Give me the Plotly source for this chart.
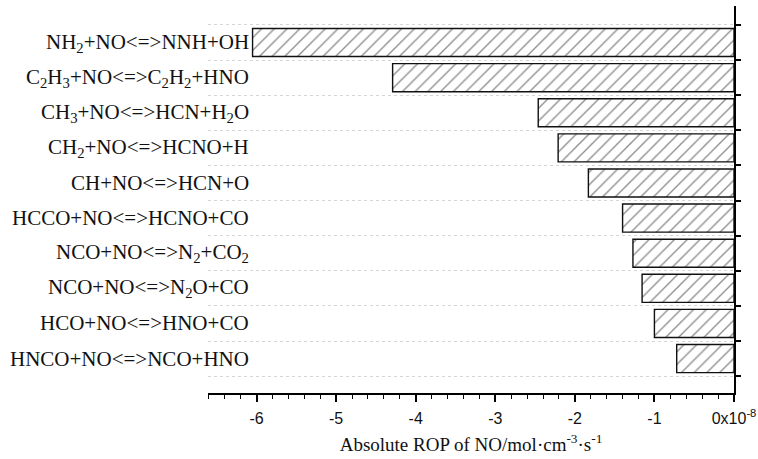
import plotly.graph_objects as go

reactions = [
    "NH<sub>2</sub>+NO&lt;=&gt;NNH+OH",
    "C<sub>2</sub>H<sub>3</sub>+NO&lt;=&gt;C<sub>2</sub>H<sub>2</sub>+HNO",
    "CH<sub>3</sub>+NO&lt;=&gt;HCN+H<sub>2</sub>O",
    "CH<sub>2</sub>+NO&lt;=&gt;HCNO+H",
    "CH+NO&lt;=&gt;HCN+O",
    "HCCO+NO&lt;=&gt;HCNO+CO",
    "NCO+NO&lt;=&gt;N<sub>2</sub>+CO<sub>2</sub>",
    "NCO+NO&lt;=&gt;N<sub>2</sub>O+CO",
    "HCO+NO&lt;=&gt;HNO+CO",
    "HNCO+NO&lt;=&gt;NCO+HNO",
]
rop = [-6.05, -4.29, -2.46, -2.21, -1.83, -1.40, -1.27, -1.155, -1.0, -0.72]

x_tickvals = [-6, -5, -4, -3, -2, -1, 0]
x_ticktext = ["-6", "-5", "-4", "-3", "-2", "-1", "0x10<sup>-8</sup>"]

positions = list(range(len(reactions)))
boundaries = [p - 0.5 for p in positions] + [positions[-1] + 0.5]

fig = go.Figure()
fig.add_trace(go.Bar(
    x=rop,
    y=positions,
    orientation="h",
    width=0.8,
    marker=dict(
        color="white",
        line=dict(color="#111111", width=1.4),
        pattern=dict(shape="/", fgcolor="#1a1a1a", bgcolor="white", size=9, solidity=0.15),
    ),
    showlegend=False,
    hoverinfo="skip",
))

for p, name in zip(positions, reactions):
    fig.add_annotation(
        x=0.0815, xref="paper", y=p, yref="y",
        text=name, showarrow=False, xanchor="right", yanchor="middle",
        font=dict(family="Liberation Serif", size=21, color="#111111"),
    )

fig.update_layout(
    width=758, height=459,
    margin=dict(l=208, r=24, t=6, b=66, autoexpand=False),
    paper_bgcolor="white", plot_bgcolor="white",
    bargap=0.2,
)
fig.update_xaxes(
    range=[-6.61, 0],
    automargin=False,
    tickvals=x_tickvals, ticktext=x_ticktext,
    ticks="outside", ticklen=7, tickwidth=1.5, tickcolor="black",
    ticklabelstandoff=3,
    minor=dict(dtick=0.2, ticks="outside", ticklen=4, tickwidth=1.2, tickcolor="black"),
    showline=True, linecolor="black", linewidth=2,
    showgrid=False, zeroline=False,
    tickfont=dict(family="Liberation Sans", size=16, color="#111111"),
    title=dict(text="Absolute ROP of NO/mol·cm<sup>-3</sup>·s<sup>-1</sup>",
               font=dict(family="Liberation Serif", size=19, color="#111111"),
               standoff=11),
)
fig.update_yaxes(
    range=[9.98, -1.04],
    automargin=False,
    side="right",
    tickvals=boundaries, showticklabels=False,
    ticks="outside", ticklen=5, tickwidth=1.5, tickcolor="black",
    showline=True, linecolor="black", linewidth=2,
    showgrid=True, gridcolor="#d6d6d6", griddash="dot", gridwidth=1,
    zeroline=False,
)

fig.write_html("out.html", config={"displayModeBar": False},
               post_script="document.body.style.margin='0';")
